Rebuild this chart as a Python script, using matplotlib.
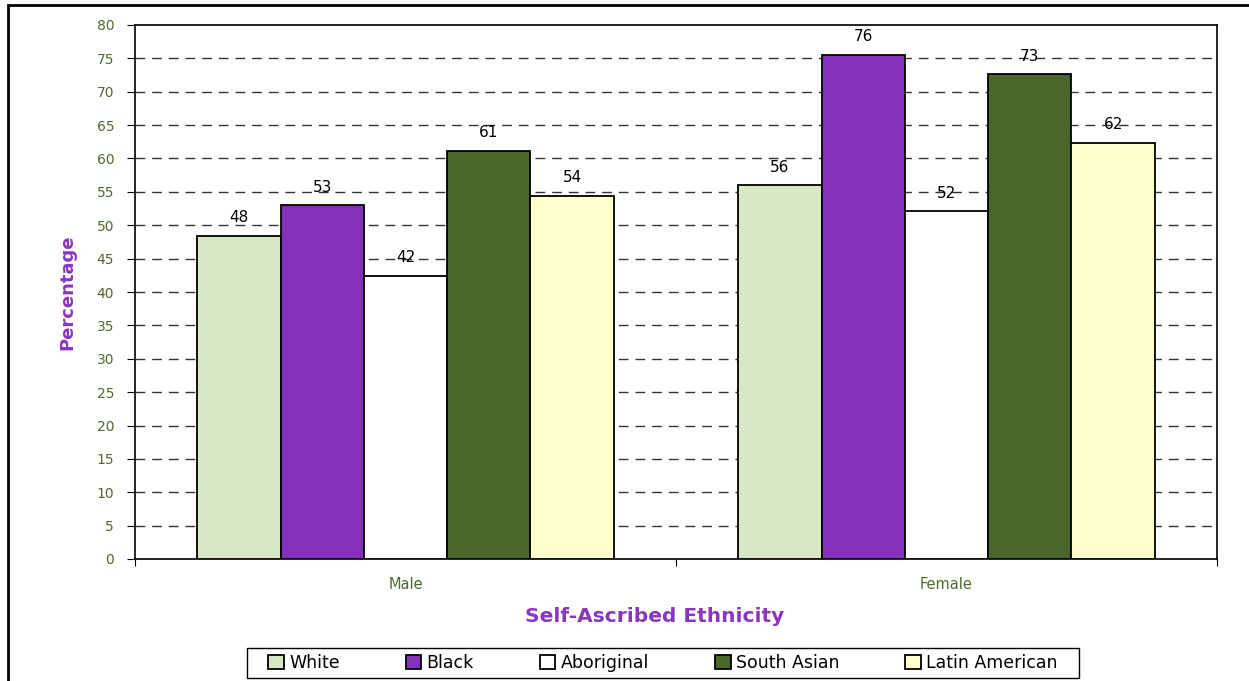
import matplotlib
matplotlib.use("Agg")
import matplotlib.pyplot as plt
from matplotlib.patches import Rectangle
import numpy as np

plt.rcParams['font.family'] = ['DejaVu Sans']

categories = ["Male", "Female"]
groups = ["White", "Black", "Aboriginal", "South Asian", "Latin American"]
values = {
    "White":          [48.4, 56.0],
    "Black":          [53.0, 75.5],
    "Aboriginal":     [42.4, 52.1],
    "South Asian":    [61.1, 72.6],
    "Latin American": [54.4, 62.3],
}
colors = ["#D9E7C4", "#8530BB", "#FFFFFF", "#4A6628", "#FFFFCC"]

TICK_COLOR = "#4F6B2E"
TITLE_COLOR = "#8A35C0"

fig = plt.figure(figsize=(12.49, 6.81), dpi=100)
W, H = 1249, 681

# outer frame of the chart object
fig.patches.append(Rectangle((8 / W, -0.1), 1.2, 1 - 5 / H + 0.1, transform=fig.transFigure,
                             fill=False, edgecolor="black", linewidth=2, zorder=0))

ax = fig.add_axes([135 / W, 1 - 559 / H, (1217 - 135) / W, (559 - 25) / H])

x = np.arange(len(categories)) + 0.5
bw = 0.154
offsets = (np.arange(len(groups)) - 2) * bw

for i, g in enumerate(groups):
    vals = values[g]
    ax.bar(x + offsets[i], vals, width=bw, color=colors[i], edgecolor="black",
           linewidth=1.3, label=g, zorder=3)
    for xi, v in zip(x + offsets[i], vals):
        ax.text(xi, v + 1.6, f"{round(v):d}", ha="center", va="bottom",
                fontsize=11, color="black", zorder=4)

ax.set_xlim(0, 2)
ax.set_ylim(0, 80)
ax.set_yticks(np.arange(0, 81, 5))
ax.set_xticks([0, 1, 2])
ax.set_xticklabels([])
ax.set_xticks(x, minor=True)
ax.set_xticklabels(categories, minor=True)
ax.tick_params(axis="x", which="minor", length=0, pad=13, labelsize=10.5, labelcolor=TICK_COLOR)
ax.tick_params(axis="x", which="major", length=5, direction="out", color="black")
ax.tick_params(axis="y", length=6, direction="out", pad=9, labelsize=10, labelcolor=TICK_COLOR)

for yv in range(5, 80, 5):
    ax.axhline(yv, color="#333333", linestyle=(0, (7, 5)), linewidth=1.0, zorder=1)

for s in ax.spines.values():
    s.set_color("black")
    s.set_linewidth(1.2)

fig.text(67 / W, 1 - 292 / H, "Percentage", rotation=90, ha="center", va="center",
         fontsize=13, fontweight="bold", color=TITLE_COLOR)
fig.text(655 / W, 1 - 617 / H, "Self-Ascribed Ethnicity", ha="center", va="center",
         fontsize=14.5, fontweight="bold", color=TITLE_COLOR)

# legend box drawn separately for wider side padding
fig.patches.append(Rectangle((247 / W, 1 - 678 / H), (1079 - 247) / W, 30 / H,
                             transform=fig.transFigure, fill=False,
                             edgecolor="black", linewidth=1.0))
leg = fig.legend(loc="center", bbox_to_anchor=(663 / W, 1 - 663 / H), ncol=5,
                 frameon=False, fontsize=12.5,
                 handlelength=0.9, handleheight=0.9, handletextpad=0.3,
                 columnspacing=3.8, borderpad=0.3)

fig.savefig("out.png", dpi=100)
